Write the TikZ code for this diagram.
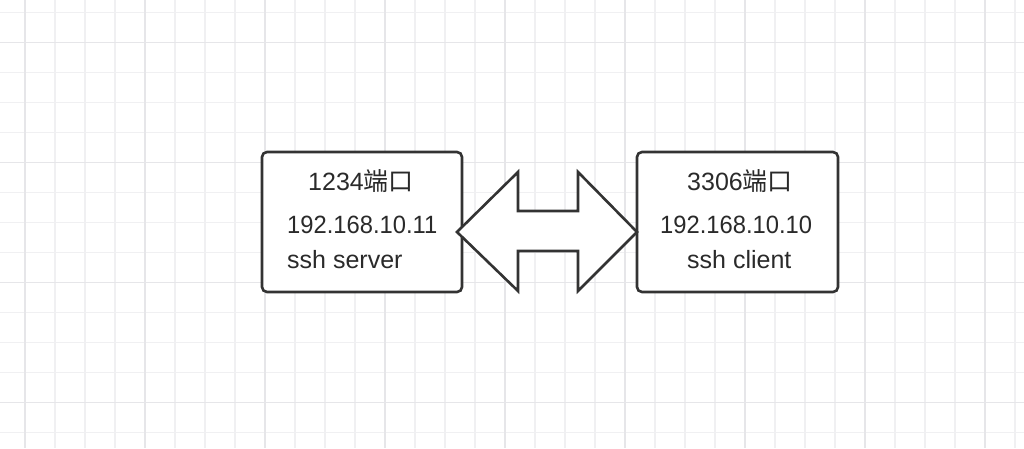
\documentclass[tikz,border=0pt]{standalone}
\usepackage{fontspec}
\setmainfont{Liberation Sans}
\newfontfamily\ipfont[FakeStretch=0.95]{Liberation Sans}
\newfontfamily\cjk{Noto Sans CJK SC}
\definecolor{gridminor}{HTML}{F0F0F2}
\definecolor{gridmajor}{HTML}{E6E6E9}
\definecolor{ink}{HTML}{333333}
\definecolor{txt}{HTML}{2A2A2A}
\begin{document}
\begin{tikzpicture}[x=1pt,y=-1pt,
  gminor/.style={draw=gridminor,line width=1.6pt},
  gmajor/.style={draw=gridmajor,line width=1.8pt},
  boxstyle/.style={draw=ink,fill=white,line width=2.6pt,rounded corners=5pt},
  lbl/.style={inner sep=0pt,anchor=base west,text=txt,font=\fontsize{25}{30}\selectfont},
  arrowshape/.style={draw=ink,fill=white,line width=2.6pt,line join=miter}]
\useasboundingbox[fill=white] (0,0) rectangle (1024,448);
% grid
\foreach \i in {0,...,33}{\draw[gminor] (25+30*\i,0) -- (25+30*\i,448);}
\foreach \j in {0,...,14}{\draw[gminor] (0,12.5+30*\j) -- (1024,12.5+30*\j);}
\foreach \i in {0,...,8}{\draw[gmajor] (25+120*\i,0) -- (25+120*\i,448);}
\foreach \j in {0,...,3}{\draw[gmajor] (0,42.5+120*\j) -- (1024,42.5+120*\j);}
% boxes
\draw[boxstyle] (262,152) rectangle (462,292);
\draw[boxstyle] (637,152) rectangle (838,292);
% double arrow
\draw[arrowshape] (457,232) -- (518,172) -- (518,211) -- (578,211) -- (578,172)
  -- (637,232) -- (578,291) -- (578,251) -- (518,251) -- (518,291) -- cycle;
% labels left
\node[lbl] (l1) at (308,190) {1234{\cjk 端口}};
\node[lbl] (l2) at (287,233) {\ipfont 192.168.10.11};
\node[lbl] (l3) at (287,268) {ssh server};
% labels right
\node[lbl] (r1) at (687,190) {3306{\cjk 端口}};
\node[lbl] (r2) at (660,233) {\ipfont 192.168.10.10};
\node[lbl] (r3) at (687,268) {ssh client};
\end{tikzpicture}
\end{document}
